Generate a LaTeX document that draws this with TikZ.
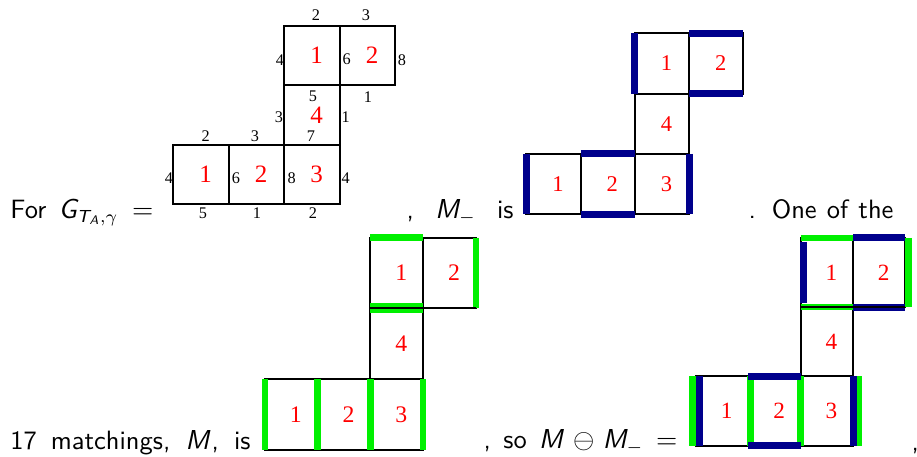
\documentclass[tikz,border=0pt]{standalone}
\usepackage{fontspec}
\newfontfamily\timesfont{Liberation Serif}
\DeclareMathAlphabet{\mathsfit}{OT1}{cmss}{m}{sl}
\usetikzlibrary{positioning}
\definecolor{mblue}{RGB}{0,0,140}
\definecolor{mgreen}{RGB}{0,240,0}
\tikzset{tile/.style 2 args={draw,line width=0.8pt,minimum width=#1,minimum height=#2,inner sep=0pt,outer sep=0pt}}
\tikzset{num/.style={text=red,font=\timesfont\fontsize{#1}{#1}\selectfont,xshift=1.8pt,inner sep=0pt},num/.default=9.3}
\tikzset{elab/.style={font=\timesfont\fontsize{6.5}{7}\selectfont,inner sep=0pt}}
\tikzset{txt/.style={anchor=base west,inner sep=0pt,font=\sffamily\fontsize{10.6}{12}\selectfont}}
\tikzset{bluebar/.style={draw=mblue,line width=2.8pt}}
\tikzset{greenbar/.style={draw=mgreen,line width=2.6pt}}
\tikzset{blk/.style={draw=black,line width=0.8pt}}

\begin{document}
\begin{tikzpicture}[x=0.4pt,y=-0.4pt,node distance=0pt]
\useasboundingbox (0,0) rectangle (917,456);

% text
\node[txt] (txt1) at (10,218) {\makebox[57.2pt][s]{For $\mathsfit{G}_{\mathsfit{T}_{\mathsfit{A}},\gamma} =$}};
\node[txt] (txt2) at (406,218) {\makebox[42.8pt][s]{, \ $\mathsfit{M}_-$ \ is}};
\node[txt] (txt3) at (748,218) {\makebox[58pt][s]{. One of the}};
\node[txt] (txt4) at (10,449) {\makebox[96pt][s]{17 matchings, $\mathsfit{M}$, is}};
\node[txt] (txt5) at (483,448) {\makebox[77.6pt][s]{, so $\mathsfit{M}\ominus\mathsfit{M}_-=$}};
\node[txt] (txt6) at (911,450) {,};

% the snake graph
\begin{scope}[sq/.style={tile={22.2pt}{23.8pt}}]
	\node[sq,label={[num=10]center:1}] (gb1) at (201.2,174.7) {};
	\node[sq,right=of gb1,label={[num=10]center:2}] (gb2) {};
	\node[sq,right=of gb2,label={[num=10]center:3}] (gb3) {};
	\node[sq,above=of gb3,label={[num=10]center:4}] (g4) {};
	\node[sq,above=of g4,label={[num=10]center:1}] (gt1) {};
	\node[sq,right=of gt1,label={[num=10]center:2}] (gt2) {};
	\foreach \x/\y/\t [count=\i] in {316/15/2,366/15/3,280/60/4,346.7/59/6,402/60/8,313/96/5,368/97/1,
		279/117/3,345.7/117/1,311/136/7,205.7/136/2,255/136/3,169/178/4,236/178/6,291.7/178/8,
		345.7/178/4,203/213/5,257/213/1,313/213/2}
		\node[elab] (gl\i) at (\x,\y) {\t};
\end{scope}

% M_-
\begin{scope}[sq/.style={tile={21.7pt}{24.1pt}}]
	\node[sq,label={[num=9]center:1}] (nb1) at (553.55,183.9) {};
	\node[sq,right=of nb1,label={[num=9]center:2}] (nb2) {};
	\node[sq,right=of nb2,label={[num=9]center:3}] (nb3) {};
	\node[sq,above=of nb3,label={[num=9]center:4}] (n4) {};
	\node[sq,above=of n4,label={[num=9]center:1}] (nt1) {};
	\node[sq,right=of nt1,label={[num=9]center:2}] (nt2) {};
	\draw[bluebar] (nt1.north west) -- (nt1.south west);
	\draw[bluebar] (nt2.north west) -- (nt2.north east);
	\draw[bluebar] (nt2.south west) -- (nt2.south east);
	\draw[bluebar] (nb1.north west) -- (nb1.south west);
	\draw[bluebar] (nb2.north west) -- (nb2.north east);
	\draw[bluebar] (nb2.south west) -- (nb2.south east);
	\draw[bluebar] (nb3.north east) -- (nb3.south east);
\end{scope}

% M
\begin{scope}[sq/.style={tile={21.08pt}{28.32pt}}]
	\node[sq,label={[num=9.5]center:1}] (mb1) at (291.35,414.6) {};
	\node[sq,right=of mb1,label={[num=9.5]center:2}] (mb2) {};
	\node[sq,right=of mb2,label={[num=9.5]center:3}] (mb3) {};
	\node[sq,above=of mb3,label={[num=9.5]center:4}] (m4) {};
	\node[sq,above=of m4,label={[num=9.5]center:1}] (mt1) {};
	\node[sq,right=of mt1,label={[num=9.5]center:2}] (mt2) {};
	\draw[greenbar] (mt1.north west) -- (mt1.north east);
	\draw[greenbar,line width=4pt] (mt1.south west) -- (mt1.south east);
	\draw[greenbar] (mt2.north east) -- (mt2.south east);
	\draw[greenbar] (mb1.north west) -- (mb1.south west);
	\draw[greenbar] (mb2.north west) -- (mb2.south west);
	\draw[greenbar] (mb3.north west) -- (mb3.south west);
	\draw[greenbar] (mb3.north east) -- (mb3.south east);
	\draw[blk] (mt1.south west) -- (mt2.south east);
\end{scope}

% M minus M_-
\begin{scope}[sq/.style={tile={20.92pt}{27.72pt}}]
	\node[sq,label={[num]center:1}] (sb1) at (722.25,411.05) {};
	\node[sq,right=of sb1,label={[num]center:2}] (sb2) {};
	\node[sq,right=of sb2,label={[num]center:3}] (sb3) {};
	\node[sq,above=of sb3,label={[num]center:4}] (s4) {};
	\node[sq,above=of s4,label={[num]center:1}] (st1) {};
	\node[sq,right=of st1,label={[num]center:2}] (st2) {};
	\draw[greenbar] (st1.north west) -- (st1.north east);
	\draw[greenbar] (st1.south west) -- (st1.south east);
	\draw[greenbar] ([xshift=1.2pt]st2.north east) -- ([xshift=1.2pt]st2.south east);
	\draw[greenbar] ([xshift=-1.4pt]sb1.north west) -- ([xshift=-1.4pt]sb1.south west);
	\draw[greenbar] ([xshift=0.8pt]sb2.north west) -- ([xshift=0.8pt]sb2.south west);
	\draw[greenbar] (sb3.north west) -- (sb3.south west);
	\draw[greenbar] ([xshift=2.4pt]sb3.north east) -- ([xshift=2.4pt]sb3.south east);
	\draw[bluebar] ([shift={(1.3pt,-1.6pt)}]st1.north west) -- ([shift={(1.3pt,1.6pt)}]st1.south west);
	\draw[bluebar] (st2.north west) -- (st2.north east);
	\draw[bluebar] (st2.south west) -- (st2.south east);
	\draw[bluebar] ([xshift=1.4pt]sb1.north west) -- ([xshift=1.4pt]sb1.south west);
	\draw[bluebar] (sb2.north west) -- (sb2.north east);
	\draw[bluebar] (sb2.south west) -- (sb2.south east);
	\draw[bluebar] (sb3.north east) -- (sb3.south east);
	\draw[blk] (st1.south west) -- (st2.south east);
\end{scope}
\end{tikzpicture}
\end{document}
